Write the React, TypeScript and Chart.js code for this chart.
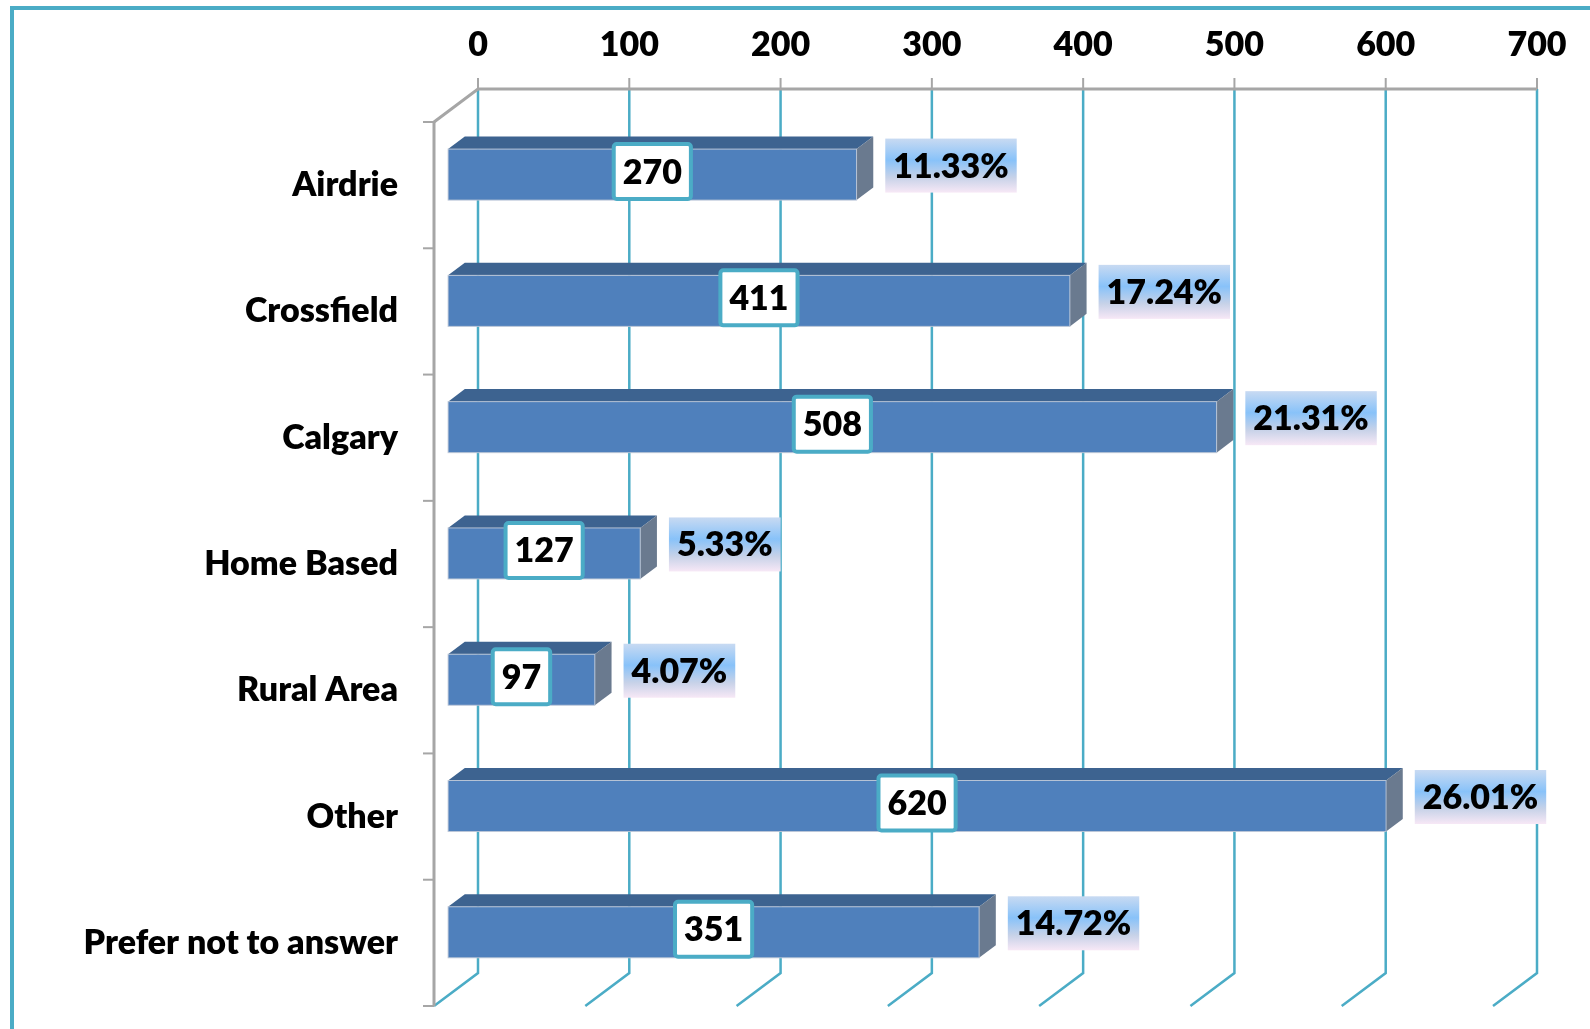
import React, { useEffect, useRef } from "react";
import { Chart, registerables } from "chart.js";

Chart.register(...registerables);

// ---- data ----
const categories = [
  "Airdrie",
  "Crossfield",
  "Calgary",
  "Home Based",
  "Rural Area",
  "Other",
  "Prefer not to answer",
];
const counts = [270, 411, 508, 127, 97, 620, 351];
const percentLabels = ["11.33%", "17.24%", "21.31%", "5.33%", "4.07%", "26.01%", "14.72%"];
const xMin = 0;
const xMax = 700;
const xStep = 100;

// ---- style ----
const FONT = "Lato, 'Open Sans', sans-serif";
const FONT_SIZE = 34;
const FONT_WEIGHT = "800";
const TEAL = "#4BACC6";
const AXIS_GRAY = "#A6A6A6";
const DX = 44; // front plane offset from back wall (x)
const DY = 33; // front plane offset from back wall (y)
const F_FRONT = 0.68; // bar front face depth fraction
const F_BACK = 0.3; // bar back face depth fraction

const framePlugin = {
  id: "frame",
  beforeDraw(chart: any) {
    const { ctx, width, height } = chart;
    ctx.save();
    ctx.fillStyle = "#ffffff";
    ctx.fillRect(0, 0, width, height);
    ctx.strokeStyle = TEAL;
    ctx.lineWidth = 4;
    ctx.beginPath();
    ctx.moveTo(12, height);
    ctx.lineTo(12, 8);
    ctx.lineTo(width, 8);
    ctx.stroke();
    ctx.restore();
  },
};

const wallPlugin = {
  id: "wall3d",
  beforeDatasetsDraw(chart: any) {
    const { ctx, chartArea: a, scales } = chart;
    const xs = scales.x;
    const backTop = a.top - DY;
    const backBottom = a.bottom - DY;
    ctx.save();
    ctx.lineCap = "butt";
    // gridlines on back wall + floor
    ctx.strokeStyle = TEAL;
    ctx.lineWidth = 2.5;
    xs.ticks.forEach((t: any) => {
      const x = xs.getPixelForValue(t.value);
      ctx.beginPath();
      ctx.moveTo(x, backTop);
      ctx.lineTo(x, backBottom);
      ctx.lineTo(x - DX, a.bottom);
      ctx.stroke();
    });
    // top axis line
    ctx.strokeStyle = AXIS_GRAY;
    ctx.lineWidth = 3;
    ctx.beginPath();
    ctx.moveTo(a.left - DX, a.top);
    ctx.lineTo(a.left, backTop);
    ctx.lineTo(a.right, backTop);
    ctx.stroke();
    ctx.lineWidth = 2;
    xs.ticks.forEach((t: any) => {
      const x = xs.getPixelForValue(t.value);
      ctx.beginPath();
      ctx.moveTo(x, backTop);
      ctx.lineTo(x, backTop - 11);
      ctx.stroke();
    });
    // left (category) axis
    ctx.lineWidth = 3;
    ctx.beginPath();
    ctx.moveTo(a.left - DX, a.top);
    ctx.lineTo(a.left - DX, a.bottom);
    ctx.stroke();
    ctx.lineWidth = 2;
    const n = categories.length;
    for (let i = 0; i <= n; i++) {
      const y = a.top + (i * a.height) / n;
      ctx.beginPath();
      ctx.moveTo(a.left - DX - 11, y);
      ctx.lineTo(a.left - DX, y);
      ctx.stroke();
    }
    ctx.restore();
  },
};

const barsPlugin = {
  id: "bars3d",
  afterDatasetsDraw(chart: any) {
    const { ctx } = chart;
    const meta = chart.getDatasetMeta(0);
    const ddx = DX * (F_FRONT - F_BACK);
    const ddy = DY * (F_FRONT - F_BACK);
    ctx.save();
    ctx.font = `${FONT_WEIGHT} ${FONT_SIZE}px ${FONT}`;
    ctx.textAlign = "center";
    ctx.textBaseline = "middle";
    meta.data.forEach((el: any, i: number) => {
      const { x, y, base, height } = el.getProps(["x", "y", "base", "height"], true);
      const L = base - DX * F_FRONT;
      const R = x - DX * F_FRONT;
      const cy = y - DY * (1 - F_FRONT);
      const T = cy - height / 2;
      const B = cy + height / 2;
      // top face
      ctx.fillStyle = "#3D6390";
      ctx.beginPath();
      ctx.moveTo(L, T);
      ctx.lineTo(R, T);
      ctx.lineTo(R + ddx, T - ddy);
      ctx.lineTo(L + ddx, T - ddy);
      ctx.closePath();
      ctx.fill();
      // side face
      ctx.fillStyle = "#6A7A8F";
      ctx.beginPath();
      ctx.moveTo(R, T);
      ctx.lineTo(R + ddx, T - ddy);
      ctx.lineTo(R + ddx, B - ddy);
      ctx.lineTo(R, B);
      ctx.closePath();
      ctx.fill();
      // front face
      ctx.fillStyle = "#4F80BC";
      ctx.fillRect(L, T, R - L, B - T);
      ctx.strokeStyle = "rgba(190,200,215,0.9)";
      ctx.lineWidth = 1;
      ctx.strokeRect(L, T, R - L, B - T);

      // value label box
      const vText = String(counts[i]);
      const vw = ctx.measureText(vText).width + 18;
      const vh = 55;
      const vcx = (L + R) / 2;
      const vcy = cy - 3;
      ctx.fillStyle = "#ffffff";
      ctx.strokeStyle = TEAL;
      ctx.lineWidth = 4;
      ctx.beginPath();
      (ctx as any).roundRect(vcx - vw / 2, vcy - vh / 2, vw, vh, 3);
      ctx.fill();
      ctx.stroke();
      ctx.fillStyle = "#000000";
      ctx.fillText(vText, vcx, vcy + 1);

      // percentage label box
      const pText = percentLabels[i];
      const pw = ctx.measureText(pText).width + 16;
      const ph = 54;
      const pl = x - DX * F_BACK + 12;
      const pcy = cy - 9;
      const g = ctx.createLinearGradient(0, pcy - ph / 2, 0, pcy + ph / 2);
      g.addColorStop(0, "#C8DAF2");
      g.addColorStop(0.4, "#88C2F9");
      g.addColorStop(0.72, "#C7D2E8");
      g.addColorStop(1, "#F7E8F6");
      ctx.fillStyle = g;
      ctx.fillRect(pl, pcy - ph / 2, pw, ph);
      ctx.fillStyle = "#000000";
      ctx.fillText(pText, pl + pw / 2, pcy + 1);
    });
    ctx.restore();
  },
};

export default function App() {
  const ref = useRef<HTMLCanvasElement | null>(null);

  useEffect(() => {
    document.body.style.margin = "0";
    const canvas = ref.current;
    if (!canvas) return;
    const chart = new Chart(canvas, {
      type: "bar",
      data: {
        labels: categories,
        datasets: [
          {
            data: counts,
            backgroundColor: "rgba(0,0,0,0)",
            borderWidth: 0,
            categoryPercentage: 1,
            barPercentage: 0.404,
          },
        ],
      },
      options: {
        indexAxis: "y",
        responsive: false,
        animation: false,
        devicePixelRatio: 1,
        layout: { padding: { left: 0, top: 0, right: 53, bottom: 23 } },
        plugins: {
          legend: { display: false },
          tooltip: { enabled: false },
        },
        scales: {
          x: {
            type: "linear",
            position: "top",
            min: xMin,
            max: xMax,
            grid: { display: false, drawTicks: false },
            border: { display: false },
            ticks: {
              stepSize: xStep,
              padding: 57,
              color: "#000000",
              font: { family: FONT, size: FONT_SIZE, weight: FONT_WEIGHT },
              maxRotation: 0,
            },
            afterFit: (s: any) => {
              s.height = 122;
              s.paddingLeft = 0;
              s.paddingRight = 0;
              s.paddingTop = 0;
              s.paddingBottom = 0;
            },
          },
          y: {
            type: "category",
            position: "left",
            grid: { display: false, drawTicks: false },
            border: { display: false },
            ticks: {
              padding: 80,
              color: "#000000",
              font: { family: FONT, size: FONT_SIZE, weight: FONT_WEIGHT },
            },
            afterFit: (s: any) => {
              s.width = 478;
              s.paddingLeft = 0;
              s.paddingRight = 0;
              s.paddingTop = 0;
              s.paddingBottom = 0;
            },
          },
        },
      },
      plugins: [framePlugin, wallPlugin, barsPlugin],
    } as any);
    return () => chart.destroy();
  }, []);

  return (
    <div style={{ width: 1590, height: 1029, overflow: "hidden" }}>
      <canvas ref={ref} width={1590} height={1029} style={{ display: "block" }} />
    </div>
  );
}
